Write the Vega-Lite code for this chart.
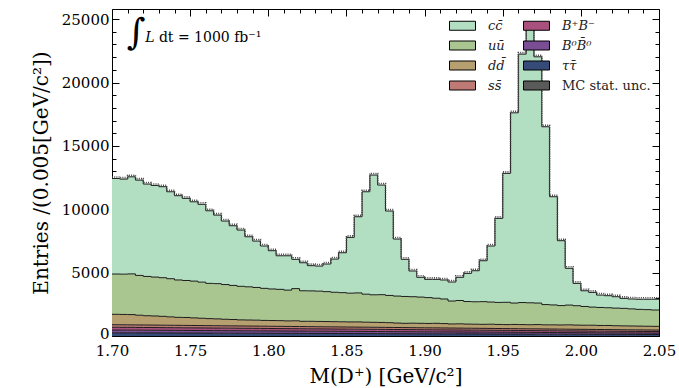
{
  "$schema": "https://vega.github.io/schema/vega-lite/v6.json",
  "width": 547,
  "height": 327,
  "autosize": {"type": "none"},
  "padding": {"left": 112, "top": 9, "right": 20, "bottom": 52},
  "background": "white",
  "config": {
    "view": {"stroke": "black", "strokeWidth": 1},
    "font": "DejaVu Serif",
    "axis": {"grid": false, "domain": false, "tickColor": "black", "tickWidth": 1, "labelColor": "black", "labelFont": "DejaVu Serif", "labelFontSize": 15, "titleFont": "DejaVu Serif", "titleFontSize": 20, "titleFontWeight": "normal", "titleColor": "black", "labelFlush": false, "labelOverlap": false}
  },
  "datasets": {
    "h": [
      {"x":1.700,"cc":7540,"uu":3180,"dd":820,"ss":200,"bp":222,"b0":218,"tt":250},
      {"x":1.705,"cc":7500,"uu":3180,"dd":816,"ss":203,"bp":218,"b0":221,"tt":242},
      {"x":1.710,"cc":7660,"uu":3210,"dd":812,"ss":196,"bp":219,"b0":214,"tt":249},
      {"x":1.715,"cc":7520,"uu":3140,"dd":768,"ss":198,"bp":214,"b0":217,"tt":243},
      {"x":1.720,"cc":7290,"uu":3100,"dd":734,"ss":195,"bp":216,"b0":212,"tt":243},
      {"x":1.725,"cc":7230,"uu":3070,"dd":720,"ss":194,"bp":211,"b0":213,"tt":242},
      {"x":1.730,"cc":7180,"uu":3050,"dd":697,"ss":193,"bp":212,"b0":209,"tt":239},
      {"x":1.735,"cc":6860,"uu":3010,"dd":663,"ss":192,"bp":210,"b0":207,"tt":238},
      {"x":1.740,"cc":6650,"uu":2950,"dd":629,"ss":190,"bp":209,"b0":206,"tt":236},
      {"x":1.745,"cc":6480,"uu":2920,"dd":625,"ss":190,"bp":206,"b0":206,"tt":233},
      {"x":1.750,"cc":6260,"uu":2900,"dd":601,"ss":189,"bp":205,"b0":204,"tt":231},
      {"x":1.755,"cc":6140,"uu":2850,"dd":577,"ss":186,"bp":206,"b0":201,"tt":230},
      {"x":1.760,"cc":5730,"uu":2780,"dd":553,"ss":187,"bp":202,"b0":200,"tt":228},
      {"x":1.765,"cc":5410,"uu":2780,"dd":539,"ss":185,"bp":201,"b0":199,"tt":226},
      {"x":1.770,"cc":5010,"uu":2740,"dd":515,"ss":184,"bp":200,"b0":198,"tt":223},
      {"x":1.775,"cc":4710,"uu":2690,"dd":502,"ss":182,"bp":199,"b0":196,"tt":221},
      {"x":1.780,"cc":4440,"uu":2650,"dd":478,"ss":182,"bp":197,"b0":194,"tt":219},
      {"x":1.785,"cc":3950,"uu":2620,"dd":474,"ss":180,"bp":196,"b0":193,"tt":217},
      {"x":1.790,"cc":3660,"uu":2580,"dd":470,"ss":179,"bp":194,"b0":191,"tt":216},
      {"x":1.795,"cc":3340,"uu":2530,"dd":456,"ss":178,"bp":193,"b0":190,"tt":213},
      {"x":1.800,"cc":3020,"uu":2490,"dd":452,"ss":177,"bp":191,"b0":188,"tt":212},
      {"x":1.805,"cc":2650,"uu":2470,"dd":448,"ss":176,"bp":190,"b0":186,"tt":210},
      {"x":1.810,"cc":2710,"uu":2430,"dd":434,"ss":175,"bp":188,"b0":185,"tt":208},
      {"x":1.815,"cc":2310,"uu":2540,"dd":450,"ss":174,"bp":187,"b0":183,"tt":206},
      {"x":1.820,"cc":2210,"uu":2410,"dd":416,"ss":172,"bp":185,"b0":182,"tt":205},
      {"x":1.825,"cc":1990,"uu":2400,"dd":423,"ss":171,"bp":184,"b0":180,"tt":202},
      {"x":1.830,"cc":1980,"uu":2390,"dd":419,"ss":170,"bp":182,"b0":178,"tt":201},
      {"x":1.835,"cc":2180,"uu":2360,"dd":415,"ss":169,"bp":181,"b0":177,"tt":198},
      {"x":1.840,"cc":2620,"uu":2320,"dd":411,"ss":168,"bp":179,"b0":175,"tt":197},
      {"x":1.845,"cc":3150,"uu":2300,"dd":407,"ss":167,"bp":178,"b0":174,"tt":194},
      {"x":1.850,"cc":4400,"uu":2270,"dd":403,"ss":166,"bp":176,"b0":172,"tt":193},
      {"x":1.855,"cc":6010,"uu":2290,"dd":409,"ss":164,"bp":175,"b0":170,"tt":192},
      {"x":1.860,"cc":8080,"uu":2210,"dd":395,"ss":163,"bp":174,"b0":169,"tt":189},
      {"x":1.865,"cc":9450,"uu":2170,"dd":391,"ss":162,"bp":172,"b0":167,"tt":188},
      {"x":1.870,"cc":8650,"uu":2190,"dd":387,"ss":161,"bp":171,"b0":166,"tt":185},
      {"x":1.875,"cc":6660,"uu":2150,"dd":374,"ss":160,"bp":169,"b0":164,"tt":183},
      {"x":1.880,"cc":4500,"uu":2130,"dd":350,"ss":159,"bp":168,"b0":162,"tt":181},
      {"x":1.885,"cc":2930,"uu":2120,"dd":336,"ss":157,"bp":166,"b0":161,"tt":180},
      {"x":1.890,"cc":2030,"uu":2090,"dd":352,"ss":156,"bp":165,"b0":159,"tt":178},
      {"x":1.895,"cc":1560,"uu":2070,"dd":348,"ss":155,"bp":163,"b0":158,"tt":176},
      {"x":1.900,"cc":1440,"uu":2040,"dd":344,"ss":154,"bp":162,"b0":156,"tt":174},
      {"x":1.905,"cc":1490,"uu":1980,"dd":360,"ss":153,"bp":161,"b0":154,"tt":172},
      {"x":1.910,"cc":1500,"uu":1940,"dd":346,"ss":152,"bp":159,"b0":153,"tt":170},
      {"x":1.915,"cc":1500,"uu":1810,"dd":322,"ss":151,"bp":158,"b0":151,"tt":168},
      {"x":1.920,"cc":1830,"uu":1840,"dd":338,"ss":149,"bp":156,"b0":150,"tt":167},
      {"x":1.925,"cc":2220,"uu":1780,"dd":325,"ss":148,"bp":155,"b0":148,"tt":164},
      {"x":1.930,"cc":2450,"uu":1770,"dd":321,"ss":147,"bp":153,"b0":146,"tt":163},
      {"x":1.935,"cc":3230,"uu":1790,"dd":317,"ss":146,"bp":152,"b0":145,"tt":160},
      {"x":1.940,"cc":4420,"uu":1750,"dd":333,"ss":145,"bp":150,"b0":143,"tt":159},
      {"x":1.945,"cc":6630,"uu":1740,"dd":319,"ss":144,"bp":149,"b0":142,"tt":156},
      {"x":1.950,"cc":10170,"uu":1760,"dd":315,"ss":142,"bp":148,"b0":140,"tt":155},
      {"x":1.955,"cc":15010,"uu":1690,"dd":331,"ss":141,"bp":146,"b0":138,"tt":154},
      {"x":1.960,"cc":19600,"uu":1740,"dd":327,"ss":140,"bp":145,"b0":137,"tt":151},
      {"x":1.965,"cc":21680,"uu":1730,"dd":323,"ss":139,"bp":143,"b0":135,"tt":150},
      {"x":1.970,"cc":19430,"uu":1700,"dd":339,"ss":138,"bp":142,"b0":134,"tt":147},
      {"x":1.975,"cc":14030,"uu":1600,"dd":326,"ss":137,"bp":140,"b0":132,"tt":145},
      {"x":1.980,"cc":8540,"uu":1570,"dd":332,"ss":136,"bp":139,"b0":130,"tt":143},
      {"x":1.985,"cc":5120,"uu":1530,"dd":328,"ss":134,"bp":137,"b0":129,"tt":142},
      {"x":1.990,"cc":2900,"uu":1560,"dd":344,"ss":133,"bp":136,"b0":127,"tt":140},
      {"x":1.995,"cc":1760,"uu":1530,"dd":330,"ss":132,"bp":135,"b0":126,"tt":137},
      {"x":2.000,"cc":1240,"uu":1480,"dd":326,"ss":131,"bp":133,"b0":124,"tt":136},
      {"x":2.005,"cc":1160,"uu":1430,"dd":332,"ss":130,"bp":132,"b0":122,"tt":134},
      {"x":2.010,"cc":980,"uu":1420,"dd":318,"ss":129,"bp":130,"b0":121,"tt":132},
      {"x":2.015,"cc":950,"uu":1400,"dd":324,"ss":127,"bp":129,"b0":119,"tt":131},
      {"x":2.020,"cc":900,"uu":1390,"dd":310,"ss":126,"bp":127,"b0":118,"tt":129},
      {"x":2.025,"cc":790,"uu":1380,"dd":307,"ss":125,"bp":126,"b0":116,"tt":126},
      {"x":2.030,"cc":780,"uu":1350,"dd":303,"ss":124,"bp":124,"b0":114,"tt":125},
      {"x":2.035,"cc":800,"uu":1320,"dd":299,"ss":123,"bp":123,"b0":113,"tt":122},
      {"x":2.040,"cc":820,"uu":1310,"dd":295,"ss":122,"bp":121,"b0":111,"tt":121},
      {"x":2.045,"cc":850,"uu":1290,"dd":291,"ss":121,"bp":120,"b0":110,"tt":119},
      {"x":2.050,"cc":850,"uu":1290,"dd":291,"ss":121,"bp":120,"b0":110,"tt":119}
    ],
    "comps": [
      {"comp":"tt","ord":0,"label":"ττ̄"},
      {"comp":"b0","ord":1,"label":"B⁰B̄⁰"},
      {"comp":"bp","ord":2,"label":"B⁺B⁻"},
      {"comp":"ss","ord":3,"label":"ss̄"},
      {"comp":"dd","ord":4,"label":"dd̄"},
      {"comp":"uu","ord":5,"label":"uū"},
      {"comp":"cc","ord":6,"label":"cc̄"}
    ]
  },
  "layer": [
    {
      "data": {"name": "h"},
      "transform": [
        {"fold": ["tt","b0","bp","ss","dd","uu","cc"], "as": ["comp","n"]},
        {"lookup": "comp", "from": {"data": {"name": "comps"}, "key": "comp", "fields": ["ord","label"]}},
        {"stack": "n", "groupby": ["x"], "sort": [{"field": "ord", "order": "ascending"}], "as": ["y0","y1"]}
      ],
      "mark": {"type": "area", "interpolate": "step-after", "opacity": 1},
      "encoding": {
        "x": {"field": "x", "type": "quantitative", "scale": {"domain": [1.7, 2.05], "nice": false, "zero": false},
          "axis": {"orient": "bottom",
            "values": [1.70,1.71,1.72,1.73,1.74,1.75,1.76,1.77,1.78,1.79,1.80,1.81,1.82,1.83,1.84,1.85,1.86,1.87,1.88,1.89,1.90,1.91,1.92,1.93,1.94,1.95,1.96,1.97,1.98,1.99,2.00,2.01,2.02,2.03,2.04,2.05],
            "labelExpr": "abs(round(datum.value*100)%5)<0.5 ? format(datum.value, '.2f') : ''",
            "tickSize": {"condition": {"test": "abs(round(datum.value*100)%5)<0.5", "value": -7}, "value": -4},
            "labelPadding": 14,
            "title": "M(D⁺) [GeV/c²]", "titleY": 30, "titleBaseline": "top"}},
        "y": {"field": "y1", "type": "quantitative", "scale": {"domain": [0, 25800], "nice": false},
          "axis": {"orient": "left",
            "values": [0,1000,2000,3000,4000,5000,6000,7000,8000,9000,10000,11000,12000,13000,14000,15000,16000,17000,18000,19000,20000,21000,22000,23000,24000,25000],
            "labelExpr": "datum.value % 5000 == 0 ? format(datum.value, 'd') : ''",
            "tickSize": {"condition": {"test": "datum.value % 5000 == 0", "value": -7}, "value": -4},
            "labelOffset": {"condition": {"test": "datum.value == 0", "value": -3}, "value": 0},
            "labelPadding": 10,
            "title": "Entries /(0.005[GeV/c²])", "titleX": -61, "titleY": 163.5}},
        "y2": {"field": "y0"},
        "color": {"field": "label", "type": "nominal",
          "scale": {"domain": ["cc̄","uū","dd̄","ss̄","B⁺B⁻","B⁰B̄⁰","ττ̄","MC stat. unc."],
                    "range": ["#b2dec1","#a9c590","#b7a070","#bf7a75","#a8517f","#7a4d94","#374b78","#5a5a5a"]},
          "legend": {"orient": "none", "legendX": 344, "legendY": 10, "columns": 2, "title": null,
            "symbolType": "M-2.6,-0.9H2.6V0.9H-2.6Z", "symbolSize": 100,
            "symbolStrokeColor": "black", "symbolStrokeWidth": 1, "symbolOpacity": 1,
            "labelFont": "DejaVu Serif", "labelFontSize": 13, "labelColor": "#222",
            "labelFontStyle": {"expr": "datum.label == 'MC stat. unc.' ? 'normal' : 'italic'"},
            "labelOffset": 19, "rowPadding": 6, "columnPadding": 16}}
      }
    },
    {
      "data": {"name": "h"},
      "transform": [
        {"fold": ["tt","b0","bp","ss","dd","uu","cc"], "as": ["comp","n"]},
        {"lookup": "comp", "from": {"data": {"name": "comps"}, "key": "comp", "fields": ["ord","label"]}},
        {"stack": "n", "groupby": ["x"], "sort": [{"field": "ord", "order": "ascending"}], "as": ["y0","y1"]}
      ],
      "mark": {"type": "line", "interpolate": "step-after", "color": "#1c1c1c", "strokeWidth": 1},
      "encoding": {
        "x": {"field": "x", "type": "quantitative", "scale": {"domain": [1.7, 2.05], "nice": false, "zero": false},
          "axis": {"orient": "top", "labels": false, "title": null,
            "values": [1.70,1.71,1.72,1.73,1.74,1.75,1.76,1.77,1.78,1.79,1.80,1.81,1.82,1.83,1.84,1.85,1.86,1.87,1.88,1.89,1.90,1.91,1.92,1.93,1.94,1.95,1.96,1.97,1.98,1.99,2.00,2.01,2.02,2.03,2.04,2.05],
            "tickSize": {"condition": {"test": "abs(round(datum.value*100)%5)<0.5", "value": -7}, "value": -4}}},
        "y": {"field": "y1", "type": "quantitative", "scale": {"domain": [0, 25800], "nice": false},
          "axis": {"orient": "right", "labels": false, "title": null,
            "values": [0,1000,2000,3000,4000,5000,6000,7000,8000,9000,10000,11000,12000,13000,14000,15000,16000,17000,18000,19000,20000,21000,22000,23000,24000,25000],
            "tickSize": {"condition": {"test": "datum.value % 5000 == 0", "value": -7}, "value": -4}}},
        "detail": {"field": "comp"}
      }
    },
    {
      "data": {"name": "h"},
      "transform": [
        {"fold": ["tt","b0","bp","ss","dd","uu","cc"], "as": ["comp","n"]},
        {"lookup": "comp", "from": {"data": {"name": "comps"}, "key": "comp", "fields": ["ord","label"]}},
        {"stack": "n", "groupby": ["x"], "sort": [{"field": "ord", "order": "ascending"}], "as": ["y0","y1"]},
        {"filter": "datum.comp == 'cc'"}
      ],
      "mark": {"type": "line", "interpolate": "step-after", "color": "#444444", "strokeWidth": 1.6, "strokeDash": [1, 1.2], "yOffset": -1.5},
      "encoding": {
        "x": {"field": "x", "type": "quantitative", "scale": {"domain": [1.7, 2.05], "nice": false, "zero": false}, "axis": null},
        "y": {"field": "y1", "type": "quantitative", "scale": {"domain": [0, 25800], "nice": false}, "axis": null}
      }
    },
    {
      "data": {"values": [{"t": "∫"}]},
      "mark": {"type": "text", "font": "DejaVu Serif", "fontSize": 36, "align": "left", "baseline": "alphabetic", "color": "black"},
      "encoding": {
        "x": {"datum": 1.7095, "type": "quantitative", "scale": {"domain": [1.7, 2.05], "nice": false, "zero": false}, "axis": null},
        "y": {"datum": 23050, "type": "quantitative", "scale": {"domain": [0, 25800], "nice": false}, "axis": null},
        "text": {"field": "t"}
      }
    },
    {
      "data": {"values": [{"t": "L"}]},
      "mark": {"type": "text", "font": "DejaVu Serif", "fontSize": 14, "fontStyle": "italic", "align": "left", "baseline": "alphabetic", "color": "black"},
      "encoding": {
        "x": {"datum": 1.7212, "type": "quantitative", "scale": {"domain": [1.7, 2.05], "nice": false, "zero": false}, "axis": null},
        "y": {"datum": 23200, "type": "quantitative", "scale": {"domain": [0, 25800], "nice": false}, "axis": null},
        "text": {"field": "t"}
      }
    },
    {
      "data": {"values": [{"t": "dt = 1000 fb⁻¹"}]},
      "mark": {"type": "text", "font": "DejaVu Serif", "fontSize": 14, "align": "left", "baseline": "alphabetic", "color": "black"},
      "encoding": {
        "x": {"datum": 1.7300, "type": "quantitative", "scale": {"domain": [1.7, 2.05], "nice": false, "zero": false}, "axis": null},
        "y": {"datum": 23200, "type": "quantitative", "scale": {"domain": [0, 25800], "nice": false}, "axis": null},
        "text": {"field": "t"}
      }
    }
  ],
  "resolve": {"axis": {"x": "independent", "y": "independent"}}
}
